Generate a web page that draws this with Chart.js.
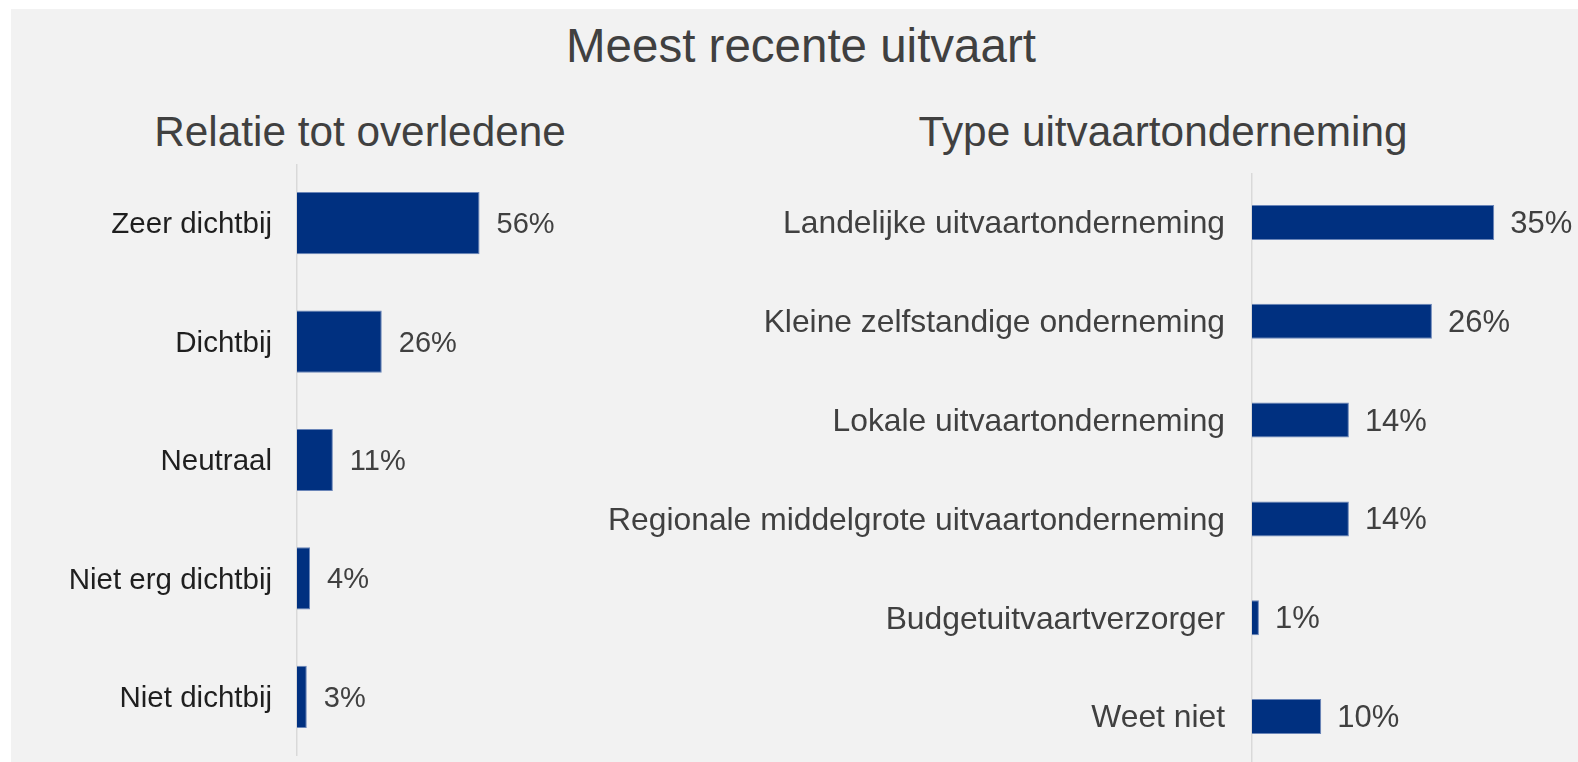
<!DOCTYPE html>
<html lang="nl">
<head>
<meta charset="utf-8">
<title>Meest recente uitvaart</title>
<script src="https://cdn.jsdelivr.net/npm/chart.js@4/dist/chart.umd.min.js"></script>
<style>
  html, body { margin: 0; padding: 0; width: 1578px; height: 762px; overflow: hidden; background: #ffffff; }
  #panel { position: absolute; left: 11px; top: 9px; right: 0; bottom: 0; background: #f2f2f2; }
  .txt { position: absolute; font-family: "Liberation Sans", Arial, sans-serif; color: #404040; text-align: center; white-space: nowrap; line-height: 1; }
  #title { left: 301px; width: 1000px; top: 22px; font-size: 47.5px; }
  #sub1 { left: -140px; width: 1000px; top: 110.5px; font-size: 42.3px; }
  #sub2 { left: 663px; width: 1000px; top: 110.5px; font-size: 42.3px; }
  canvas { position: absolute; }
  #c1 { left: 0px; top: 164px; }
  #c2 { left: 560px; top: 173px; }
</style>
</head>
<body>
<div id="panel"></div>
<div class="txt" id="title">Meest recente uitvaart</div>
<div class="txt" id="sub1">Relatie tot overledene</div>
<div class="txt" id="sub2">Type uitvaartonderneming</div>
<canvas id="c1" width="623" height="592"></canvas>
<canvas id="c2" width="1038" height="593"></canvas>
<script>
// ---- data ----
const relatieLabels = ['Zeer dichtbij', 'Dichtbij', 'Neutraal', 'Niet erg dichtbij', 'Niet dichtbij'];
const relatieValues = [56, 26, 11, 4, 3];

const typeLabels = [
  'Landelijke uitvaartonderneming',
  'Kleine zelfstandige onderneming',
  'Lokale uitvaartonderneming',
  'Regionale middelgrote uitvaartonderneming',
  'Budgetuitvaartverzorger',
  'Weet niet'
];
const typeValues = [35, 26, 14, 14, 1, 10];

// ---- styling ----
const FONT = '"Liberation Sans", Arial, sans-serif';
const BAR_COLOR = '#003080';
const BAR_EDGE = '#6a85b8';
const AXIS_COLOR = '#d9d9d9';

const valueLabels = {
  id: 'valueLabels',
  afterDatasetsDraw(chart, args, opts) {
    const ctx = chart.ctx;
    const meta = chart.getDatasetMeta(0);
    const data = chart.data.datasets[0].data;
    ctx.save();
    ctx.font = opts.size + 'px ' + FONT;
    ctx.fillStyle = opts.color;
    ctx.textAlign = 'left';
    ctx.textBaseline = 'middle';
    meta.data.forEach((bar, i) => {
      ctx.fillText(data[i] + '%', bar.x + opts.gap, bar.y + 2);
    });
    ctx.restore();
  }
};

function makeChart(id, labels, values, cfg) {
  return new Chart(document.getElementById(id), {
    type: 'bar',
    data: {
      labels: labels,
      datasets: [{
        data: values,
        backgroundColor: BAR_COLOR,
        borderColor: BAR_EDGE,
        borderWidth: 1,
        barPercentage: cfg.barPct,
        categoryPercentage: 1
      }]
    },
    options: {
      indexAxis: 'y',
      responsive: false,
      maintainAspectRatio: false,
      animation: false,
      devicePixelRatio: 1,
      layout: { padding: 0 },
      plugins: {
        legend: { display: false },
        tooltip: { enabled: false },
        title: { display: false },
        valueLabels: { size: cfg.valueSize, color: '#404040', gap: cfg.gap }
      },
      scales: {
        x: { display: false, min: 0, max: cfg.max },
        y: {
          afterFit: s => { s.width = cfg.axisWidth; s.paddingTop = 0; s.paddingBottom = 0; },
          grid: { display: false, drawTicks: false },
          border: { display: true, color: AXIS_COLOR, width: 1.5 },
          ticks: {
            autoSkip: false,
            padding: cfg.tickPad,
            labelOffset: 2,
            color: cfg.tickColor,
            font: { family: FONT, size: cfg.tickSize }
          }
        }
      }
    },
    plugins: [valueLabels]
  });
}

makeChart('c1', relatieLabels, relatieValues, {
  barPct: 0.525, max: 100, axisWidth: 297, tickPad: 25,
  tickColor: '#1f1f1f', tickSize: 29.5, valueSize: 29, gap: 17
});

makeChart('c2', typeLabels, typeValues, {
  barPct: 0.354, max: 50, axisWidth: 692, tickPad: 27,
  tickColor: '#404040', tickSize: 31.8, valueSize: 31, gap: 16
});
</script>
</body>
</html>
